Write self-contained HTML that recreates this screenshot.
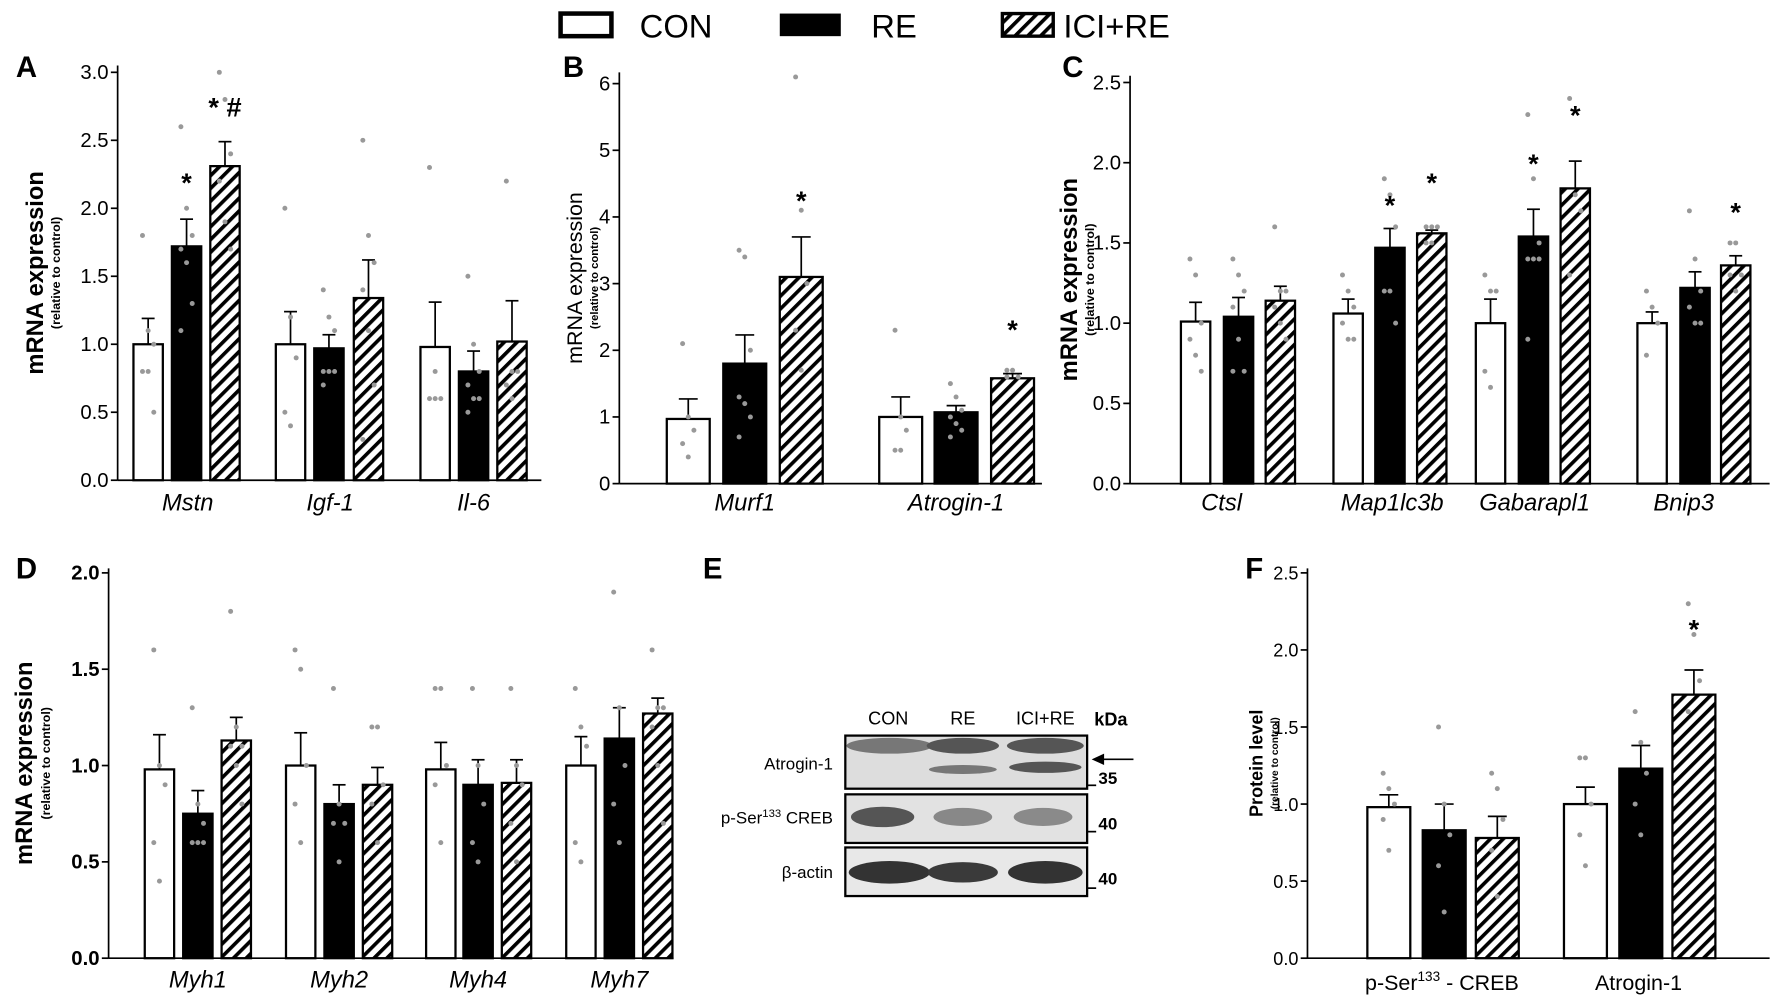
<!DOCTYPE html>
<html><head><meta charset="utf-8">
<style>
html,body{margin:0;padding:0;background:#fff;}
svg{display:block;font-family:"Liberation Sans",Arial,sans-serif;}
</style></head>
<body>
<svg id="s" xmlns="http://www.w3.org/2000/svg" width="1772" height="1000" viewBox="0 0 1568 885">
<defs>
<pattern id="h" patternUnits="userSpaceOnUse" width="8" height="8" patternTransform="rotate(45)">
<rect width="8" height="8" fill="#fff"/><rect x="0" y="0" width="3.2" height="8" fill="#000"/>
</pattern>
</defs>
<rect width="1568" height="885" fill="#fff"/>
<!-- legend -->
<rect x="496" y="12" width="45" height="20" fill="#fff" stroke="#000" stroke-width="4"/>
<text x="566" y="33" font-size="29">CON</text>
<rect x="690" y="12" width="54" height="20" fill="#000"/>
<text x="771" y="33" font-size="29">RE</text>
<rect x="887" y="12" width="45" height="20" fill="url(#h)" stroke="#000" stroke-width="3"/>
<text x="941" y="33" font-size="29">ICI+RE</text>
<g id="g"></g>
<!-- Panel E -->
<text x="622" y="512" font-size="26" font-weight="bold">E</text>
<text x="786" y="641" font-size="16" text-anchor="middle">CON</text>
<text x="852" y="641" font-size="16" text-anchor="middle">RE</text>
<text x="925" y="641" font-size="16" text-anchor="middle">ICI+RE</text>
<text x="983" y="642" font-size="16" font-weight="bold" text-anchor="middle">kDa</text>
<rect x="748" y="651" width="214" height="47" fill="#ddd" stroke="#000" stroke-width="2"/>
<ellipse cx="787" cy="660" rx="38" ry="7" fill="#777"/>
<ellipse cx="852" cy="660" rx="32" ry="7" fill="#555"/>
<ellipse cx="925" cy="660" rx="34" ry="7" fill="#555"/>
<ellipse cx="852" cy="681" rx="30" ry="4" fill="#777"/>
<ellipse cx="925" cy="679" rx="32" ry="5" fill="#555"/>
<rect x="748" y="703" width="214" height="43" fill="#e2e2e2" stroke="#000" stroke-width="2"/>
<ellipse cx="781" cy="723" rx="28" ry="9" fill="#555"/>
<ellipse cx="852" cy="723" rx="26" ry="8" fill="#888"/>
<ellipse cx="923" cy="723" rx="26" ry="8" fill="#8a8a8a"/>
<rect x="748" y="750" width="214" height="43" fill="#e8e8e8" stroke="#000" stroke-width="2"/>
<ellipse cx="787" cy="772" rx="36" ry="10" fill="#333"/>
<ellipse cx="852" cy="772" rx="31" ry="9" fill="#3a3a3a"/>
<ellipse cx="925" cy="772" rx="33" ry="10" fill="#333"/>
<text x="737" y="681" font-size="15" text-anchor="end">Atrogin-1</text>
<text x="737" y="729" font-size="15" text-anchor="end">p-Ser<tspan font-size="10" dy="-6">133</tspan><tspan dy="6"> CREB</tspan></text>
<text x="737" y="777" font-size="15" text-anchor="end">β-actin</text>
<g stroke="#000" stroke-width="1.5"><line x1="962" y1="695" x2="970" y2="695"/><line x1="962" y1="736" x2="970" y2="736"/><line x1="962" y1="786" x2="970" y2="786"/>
<line x1="975" y1="672" x2="1003" y2="672"/></g>
<polygon points="966,672 977,667 977,677" fill="#000"/>
<text x="972" y="694" font-size="15" font-weight="bold">35</text>
<text x="972" y="734" font-size="15" font-weight="bold">40</text>
<text x="972" y="783" font-size="15" font-weight="bold">40</text>
</svg>
<script>
var NS="http://www.w3.org/2000/svg",G=document.getElementById("g");
function el(t,a,txt){var e=document.createElementNS(NS,t);for(var k in a)e.setAttribute(k,a[k]);if(txt!==undefined)e.textContent=txt;G.appendChild(e);return e;}
function panel(p){
 var sc=function(v){return p.y0-(v-p.min)/(p.max-p.min)*(p.y0-p.ytop);};
 el("text",{x:p.lx,y:p.ly,"font-size":26,"font-weight":"bold"},p.letter);
 el("line",{x1:p.ax,y1:p.y0,x2:p.ax,y2:p.axTop,stroke:"#000","stroke-width":1.5});
 el("line",{x1:p.ax,y1:p.y0,x2:p.xend,y2:p.y0,stroke:"#000","stroke-width":1.5});
 p.ticks.forEach(function(t){var y=sc(t[0]);
  el("line",{x1:p.ax-6,y1:y,x2:p.ax,y2:y,stroke:"#000","stroke-width":1.5});
  el("text",{x:p.ax-8,y:y+6,"font-size":p.tfs||18,"text-anchor":"end","font-weight":p.tb?"bold":"normal"},t[1]);});
 var cy=(p.y0+p.axTop)/2;
 el("text",{x:p.ylx,y:cy,"font-size":p.yfs,"font-weight":p.ybold?"bold":"normal","text-anchor":"middle",transform:"rotate(-90 "+p.ylx+" "+cy+")"},p.ylab);
 el("text",{x:p.ysx,y:cy,"font-size":p.ysfs||11,"font-weight":"bold","text-anchor":"middle",transform:"rotate(-90 "+p.ysx+" "+cy+")"},"(relative to control)");
 p.groups.forEach(function(g){
  g.bars.forEach(function(b,i){
   var x=b[0],w=p.bw,v=b[1],e=b[2],y=sc(v),ye=sc(e),cx=x+w/2;
   el("line",{x1:cx,y1:y,x2:cx,y2:ye,stroke:"#000","stroke-width":1.5});
   el("line",{x1:cx-w*0.22,y1:ye,x2:cx+w*0.22,y2:ye,stroke:"#000","stroke-width":1.5});
   el("rect",{x:x,y:y,width:w,height:p.y0-y,fill:i==0?"#fff":(i==1?"#000":"url(#h)"),stroke:"#000","stroke-width":2});
   (b[3]||[]).forEach(function(d,j){el("circle",{cx:cx+((j%3)-1)*5,cy:sc(d),r:2.2,fill:"#999"});});
   if(b[4])el("text",{x:cx,y:b[4],"font-size":24,"font-weight":"bold","text-anchor":"middle"},b[5]||"*");
  });
  el("text",{x:g.c,y:p.laby,"font-size":21,"font-style":"italic","text-anchor":"middle"},g.name);
 });
}
// A
panel({letter:"A",lx:14,ly:68,ax:104,y0:425,ytop:64,axTop:58,min:0,max:3,xend:479,bw:26,
 ticks:[[0,"0.0"],[0.5,"0.5"],[1,"1.0"],[1.5,"1.5"],[2,"2.0"],[2.5,"2.5"],[3,"3.0"]],
 ylab:"mRNA expression",ylx:38,yfs:21,ybold:1,ysx:53,laby:452,
 groups:[{name:"Mstn",c:166,bars:[[118,1,1.19,[1.8,1.1,1,0.8,0.8,0.5]],[152,1.72,1.92,[2.6,2,1.8,1.7,1.6,1.3,1.1],170,"*"],[186,2.31,2.49,[3,2.8,2.4,2.2,1.9,1.7],103,"* #"]]},
  {name:"Igf-1",c:292,bars:[[244,1,1.24,[2,1.2,0.9,0.5,0.4]],[278,0.97,1.07,[1.4,1.2,1.1,0.8,0.8,0.8,0.7]],[313,1.34,1.62,[2.5,1.8,1.6,1.4,1.1,0.7,0.3]]]},
  {name:"Il-6",c:419,bars:[[372,0.98,1.31,[2.3,0.8,0.6,0.6,0.6]],[406,0.8,0.95,[1.5,1,0.8,0.7,0.6,0.6,0.5]],[440,1.02,1.32,[2.2,0.8,0.8,0.7,0.6]]]}]});
// B
panel({letter:"B",lx:498,ly:68,ax:548,y0:428,ytop:74,axTop:64,min:0,max:6,xend:922,bw:38,
 ticks:[[0,"0"],[1,"1"],[2,"2"],[3,"3"],[4,"4"],[5,"5"],[6,"6"]],
 ylab:"mRNA expression",ylx:515,yfs:19,ybold:0,ysx:529,ysfs:10,laby:452,
 groups:[{name:"Murf1",c:659,bars:[[590,0.97,1.27,[2.1,1,0.8,0.6,0.4]],[640,1.8,2.23,[3.5,3.4,2,1.3,1.2,1,0.7]],[690,3.1,3.7,[6.1,4.1,3,2.3,1.7],186,"*"]]},
  {name:"Atrogin-1",c:846,bars:[[778,1,1.3,[2.3,1,0.8,0.5,0.5]],[827,1.07,1.17,[1.5,1.3,1.1,1,0.9,0.8,0.7]],[877,1.58,1.65,[1.7,1.7,1.6,1.6],300,"*"]]}]});
// C
panel({letter:"C",lx:940,ly:68,ax:1000,y0:428,ytop:73,axTop:67,min:0,max:2.5,xend:1566,bw:26,
 ticks:[[0,"0.0"],[0.5,"0.5"],[1,"1.0"],[1.5,"1.5"],[2,"2.0"],[2.5,"2.5"]],
 ylab:"mRNA expression",ylx:953,yfs:21,ybold:1,ysx:968,laby:452,
 groups:[{name:"Ctsl",c:1081,bars:[[1045,1.01,1.13,[1.4,1.3,1,0.9,0.8,0.7]],[1083,1.04,1.16,[1.4,1.3,1.2,1.1,0.9,0.7,0.7]],[1120,1.14,1.23,[1.6,1.2,1.2,1.1,1,0.9]]]},
  {name:"Map1lc3b",c:1232,bars:[[1180,1.06,1.15,[1.3,1.2,1.1,1,0.9,0.9]],[1217,1.47,1.59,[1.9,1.8,1.6,1.2,1.2,1],190,"*"],[1254,1.56,1.58,[1.6,1.6,1.6,1.5,1.5],170,"*"]]},
  {name:"Gabarapl1",c:1358,bars:[[1306,1,1.15,[1.3,1.2,1.2,0.7,0.6]],[1344,1.54,1.71,[2.3,1.9,1.5,1.4,1.4,1.4,0.9],153,"*"],[1381,1.84,2.01,[2.4,1.8,1.7,1.3],110,"*"]]},
  {name:"Bnip3",c:1490,bars:[[1449,1,1.07,[1.2,1.1,1,0.8]],[1487,1.22,1.32,[1.7,1.4,1.2,1.1,1,1]],[1523,1.36,1.42,[1.5,1.5,1.3,1.3,1.2],196,"*"]]}]});
// D
panel({letter:"D",lx:14,ly:512,ax:96,y0:848,ytop:507,axTop:503,min:0,max:2,xend:596,bw:26,tb:1,
 ticks:[[0,"0.0"],[0.5,"0.5"],[1,"1.0"],[1.5,"1.5"],[2,"2.0"]],
 ylab:"mRNA expression",ylx:28,yfs:21,ybold:1,ysx:44,laby:874,
 groups:[{name:"Myh1",c:175,bars:[[128,0.98,1.16,[1.6,1,0.9,0.6,0.4]],[162,0.75,0.87,[1.3,0.8,0.7,0.6,0.6,0.6]],[196,1.13,1.25,[1.8,1.2,1.1,1.1,1,0.8]]]},
  {name:"Myh2",c:300,bars:[[253,1,1.17,[1.6,1.5,1,0.8,0.6]],[287,0.8,0.9,[1.4,0.8,0.7,0.7,0.5]],[321,0.9,0.99,[1.2,1.2,0.9,0.8,0.6]]]},
  {name:"Myh4",c:423,bars:[[377,0.98,1.12,[1.4,1.4,1,0.9,0.6]],[410,0.9,1.03,[1.4,1,0.8,0.6,0.5]],[444,0.91,1.03,[1.4,1,0.9,0.7,0.5]]]},
  {name:"Myh7",c:548,bars:[[501,1,1.15,[1.4,1.2,1.1,0.6,0.5]],[535,1.14,1.3,[1.9,1.3,1,0.8,0.6]],[569,1.27,1.35,[1.6,1.3,1.3,1.2,1,0.7]]]}]});
// F
panel({letter:"F",lx:1102,ly:512,ax:1157,y0:848,ytop:507,axTop:503,min:0,max:2.5,xend:1566,bw:38,tfs:16,
 ticks:[[0,"0.0"],[0.5,"0.5"],[1,"1.0"],[1.5,"1.5"],[2,"2.0"],[2.5,"2.5"]],
 ylab:"Protein level",ylx:1117,yfs:16,ybold:1,ysx:1131,ysfs:9,laby:876,
 groups:[{name:"",c:1276,bars:[[1210,0.98,1.06,[1.2,1.1,1,0.9,0.7]],[1259,0.83,1,[1.5,1,0.8,0.6,0.3]],[1306,0.78,0.92,[1.2,1.1,0.9,0.7,0.4]]]},
  {name:"",c:1450,bars:[[1384,1,1.11,[1.3,1.3,1,0.8,0.6]],[1433,1.23,1.38,[1.6,1.4,1.2,1,0.8]],[1480,1.71,1.87,[2.3,2.1,1.8,1.6],565,"*"]]}]});
el("text",{x:1276,y:876,"font-size":19,"text-anchor":"middle"},"").innerHTML='p-Ser<tspan font-size="12" dy="-8">133</tspan><tspan dy="8"> - CREB</tspan>';
el("text",{x:1450,y:876,"font-size":19,"text-anchor":"middle"},"Atrogin-1");
</script>
</body></html>
